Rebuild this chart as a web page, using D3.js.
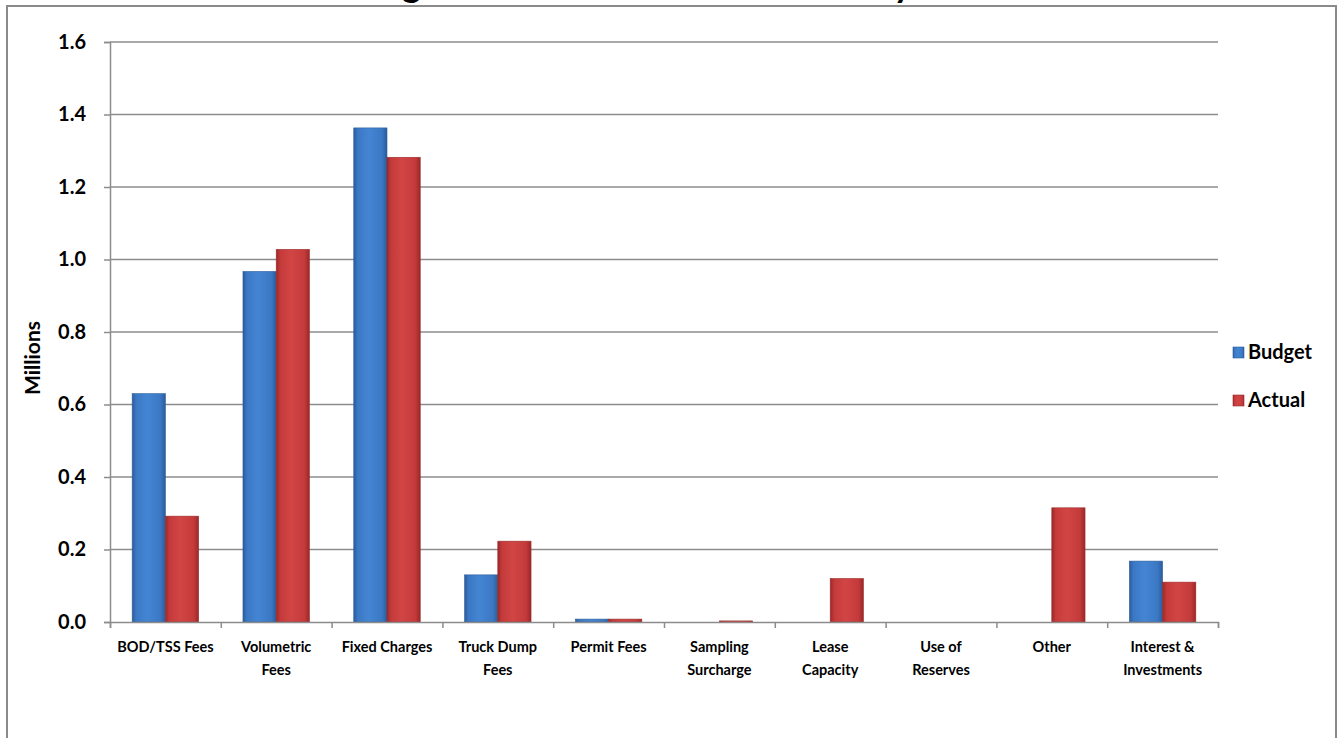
<!DOCTYPE html>
<html>
<head>
<meta charset="utf-8">
<script src="https://cdn.jsdelivr.net/npm/d3@7"></script>
<style>
  body { margin: 0; background: #fff; }
  text { font-family: Lato, "Open Sans", sans-serif; }
</style>
</head>
<body>
<div id="chart"></div>
<script>
// chart values (millions)
var categories = [
  ["BOD/TSS Fees"], ["Volumetric", "Fees"], ["Fixed Charges"], ["Truck Dump", "Fees"],
  ["Permit Fees"], ["Sampling", "Surcharge"], ["Lease", "Capacity"], ["Use of", "Reserves"],
  ["Other"], ["Interest &", "Investments"]
];
var budget = [0.63, 0.967, 1.363, 0.13, 0.008, 0, 0, 0, 0, 0.168];
var actual = [0.292, 1.028, 1.282, 0.223, 0.008, 0.003, 0.12, 0, 0.315, 0.11];
var series = ["Budget", "Actual"];
var yTicks = [0, 0.2, 0.4, 0.6, 0.8, 1.0, 1.2, 1.4, 1.6];

var W = 1338, H = 738;
var margin = { top: 42, left: 110, right: 120, bottom: 116 };

var svg = d3.select("#chart").append("svg")
  .attr("width", W).attr("height", H);

// gradients for the bevelled bars
var defs = svg.append("defs");
function grad(id, dark, mid, light) {
  var g = defs.append("linearGradient").attr("id", id)
    .attr("x1", "0%").attr("x2", "100%").attr("y1", "0%").attr("y2", "0%");
  g.append("stop").attr("offset", "0%").attr("stop-color", dark);
  g.append("stop").attr("offset", "12%").attr("stop-color", mid);
  g.append("stop").attr("offset", "45%").attr("stop-color", light);
  g.append("stop").attr("offset", "85%").attr("stop-color", mid);
  g.append("stop").attr("offset", "100%").attr("stop-color", dark);
}
grad("gBudget", "#2b5c9a", "#3b78c4", "#4485d3");
grad("gActual", "#9a2828", "#c43a3a", "#d24545");
var fills = { Budget: "url(#gBudget)", Actual: "url(#gActual)" };
var strokes = { Budget: "#2d5f9c", Actual: "#9c2d2d" };

// frame (title sits above it and is cut off, as in the source)
svg.append("text")
  .attr("x", 338).attr("y", -3)
  .style("font-size", "36px").style("font-weight", "bold")
  .text("Budget vs Actual Revenue Summary");
svg.append("rect")
  .attr("x", 7).attr("y", 6).attr("width", 1329).attr("height", 760)
  .attr("fill", "none").attr("stroke", "#8a8a8a").attr("stroke-width", 2);

var width = W - margin.left - margin.right;   // 1108
var height = 622 - margin.top;

var g = svg.append("g").attr("transform", "translate(" + margin.left + "," + margin.top + ")");

var x = d3.scaleBand().domain(d3.range(categories.length)).range([0, width]).padding(0);
var xs = d3.scaleBand().domain(series).range([x.bandwidth() * 0.2, x.bandwidth() * 0.8]);
var y = d3.scaleLinear().domain([0, 1.6]).range([height, 0]);

// gridlines
g.append("g").selectAll("line").data(yTicks.slice(1)).enter().append("line")
  .attr("x1", 0).attr("x2", width)
  .attr("y1", d => y(d)).attr("y2", d => y(d))
  .attr("stroke", "#8c8c8c").attr("stroke-width", 1.5);

// y axis
var yAxis = g.append("g")
  .call(d3.axisLeft(y).tickValues(yTicks).tickFormat(d3.format(".1f")).tickSize(6).tickPadding(18));
yAxis.select(".domain").attr("stroke", "#8c8c8c").attr("stroke-width", 1.5);
yAxis.selectAll(".tick line").attr("stroke", "#8c8c8c").attr("stroke-width", 1.5);
yAxis.selectAll("text").style("font-size", "20px").style("font-weight", "bold")
  .style("font-family", "Lato, sans-serif").attr("fill", "#000");

// bars
var rows = categories.map((c, i) => ({ i: i, Budget: budget[i], Actual: actual[i] }));
var grp = g.append("g").selectAll("g").data(rows).enter().append("g")
  .attr("transform", d => "translate(" + x(d.i) + ",0)");
grp.selectAll("rect").data(d => series.map(s => ({ key: s, value: d[s] })))
  .enter().append("rect")
  .filter(d => d.value > 0)
  .attr("x", d => xs(d.key))
  .attr("width", xs.bandwidth())
  .attr("y", d => y(d.value))
  .attr("height", d => Math.max(1.5, y(0) - y(d.value)))
  .attr("fill", d => fills[d.key])
  .attr("stroke", d => strokes[d.key]).attr("stroke-width", 0.6);

// x axis
var xAxis = g.append("g").attr("transform", "translate(0," + height + ")")
  .call(d3.axisBottom(d3.scaleLinear().domain([0, categories.length]).range([0, width]))
    .ticks(categories.length).tickSize(6).tickFormat(""));
xAxis.select(".domain").attr("stroke", "#8c8c8c").attr("stroke-width", 1.5);
xAxis.selectAll(".tick line").attr("stroke", "#8c8c8c").attr("stroke-width", 1.5);

var labels = g.append("g").selectAll("text").data(categories).enter().append("text")
  .attr("x", (d, i) => x(i) + x.bandwidth() / 2)
  .attr("y", height + 30)
  .attr("text-anchor", "middle")
  .style("font-size", "14.5px").style("font-weight", "bold");
labels.selectAll("tspan").data(d => d).enter().append("tspan")
  .attr("x", function () { return this.parentNode.getAttribute("x"); })
  .attr("dy", (d, i) => i === 0 ? 0 : 23)
  .text(d => d);

// y title
svg.append("text")
  .attr("transform", "translate(40,358) rotate(-90)")
  .attr("text-anchor", "middle")
  .style("font-size", "21px").style("font-weight", "bold")
  .text("Millions");

// legend
var leg = svg.append("g").attr("transform", "translate(1233,347)");
series.forEach(function (s, i) {
  var r = leg.append("g").attr("transform", "translate(0," + (i * 48) + ")");
  r.append("rect").attr("width", 11).attr("height", 11)
    .attr("fill", fills[s]).attr("stroke", strokes[s]).attr("stroke-width", 0.6);
  r.append("text").attr("x", 15).attr("y", 12)
    .style("font-size", "20px").style("font-weight", "bold").text(s);
});
</script>
</body>
</html>
